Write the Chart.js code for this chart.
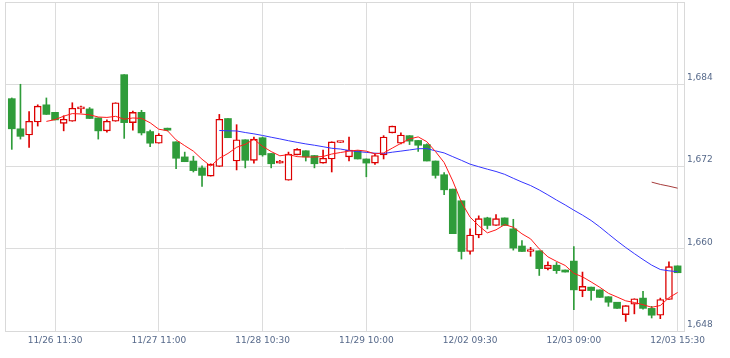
<!DOCTYPE html>
<html>
<head>
<meta charset="utf-8">
<script src="https://cdn.jsdelivr.net/npm/chart.js@4/dist/chart.umd.min.js"></script>
<style>
  html, body { margin: 0; padding: 0; background: #fff; }
  canvas { display: block; }
</style>
</head>
<body>
<canvas id="c" width="730" height="358"></canvas>
<script>
// ---- data (30-minute candles) ----
const days = ['11/26', '11/27', '11/28', '11/29', '12/02', '12/03'];
const sessionTimes = ['09:00','09:30','10:00','10:30','11:00','11:30','12:30','13:00','13:30','14:00','14:30','15:00','15:30'];
const labelIndexes = [5, 17, 29, 41, 53, 65, 77];
const yTicks = [1648, 1660, 1672, 1684];
const maPeriods = [5, 25, 75];

const open  = [1681.9,1677.5,1676.6,1678.5,1681.0,1679.9,1678.3,1678.6,1680.4,1680.4,
               1679.1,1677.2,1678.6,1685.4,1678.4,1679.9,1677.1,1675.4,1677.5,1675.6,
               1673.4,1672.8,1671.8,1670.6,1672.0,1679.0,1672.8,1675.9,1672.9,1676.2,
               1673.9,1672.5,1670.0,1673.7,1674.3,1673.6,1672.5,1673.1,1675.5,1673.4,
               1674.3,1673.1,1672.5,1673.7,1676.9,1675.4,1676.5,1675.8,1675.2,1672.8,
               1670.8,1668.7,1667.0,1659.6,1662.0,1664.5,1663.4,1664.5,1662.9,1660.4,
               1659.6,1659.7,1657.1,1657.6,1656.9,1658.2,1653.9,1654.4,1654.0,1653.0,
               1652.2,1650.4,1651.9,1652.8,1651.3,1650.3,1652.6,1657.5];
const high  = [1682.0,1684.0,1680.0,1681.0,1682.0,1679.9,1679.4,1681.3,1680.8,1680.6,
               1679.1,1678.8,1681.3,1685.4,1680.1,1680.2,1677.3,1676.8,1677.6,1675.6,
               1674.1,1673.5,1672.1,1672.4,1679.6,1679.0,1678.1,1675.9,1676.3,1676.3,
               1673.9,1672.9,1674.1,1674.6,1674.3,1673.6,1674.4,1675.6,1675.6,1676.3,
               1674.3,1673.1,1673.9,1676.5,1677.9,1676.9,1676.5,1675.8,1675.3,1672.8,
               1671.1,1668.7,1667.0,1662.9,1664.8,1664.6,1665.0,1664.5,1664.3,1661.2,
               1660.2,1659.7,1658.1,1658.0,1656.9,1660.3,1656.6,1654.4,1654.0,1653.0,
               1652.2,1651.7,1652.7,1653.8,1651.6,1652.8,1658.1,1657.5];
const low   = [1674.5,1676.0,1674.8,1677.9,1679.6,1678.8,1677.2,1678.6,1679.8,1679.0,
               1676.0,1677.0,1678.6,1676.1,1677.3,1676.6,1674.9,1675.4,1677.2,1671.7,
               1672.7,1671.2,1669.1,1670.6,1672.0,1676.2,1671.5,1671.8,1672.5,1673.5,
               1671.8,1672.5,1670.0,1673.7,1672.8,1671.8,1672.5,1671.2,1675.5,1672.8,
               1673.1,1670.5,1672.3,1673.1,1676.9,1675.3,1675.2,1674.2,1672.8,1670.3,
               1667.9,1662.2,1658.5,1659.2,1661.6,1662.9,1663.4,1663.4,1659.8,1659.6,
               1658.9,1656.1,1656.9,1656.4,1656.6,1651.1,1653.0,1652.5,1652.9,1651.6,
               1651.3,1649.4,1650.5,1651.2,1649.9,1649.8,1652.6,1656.5];
const close = [1677.5,1676.4,1678.6,1680.8,1679.6,1678.8,1678.9,1680.5,1680.5,1679.0,
               1677.2,1678.6,1681.3,1678.4,1679.9,1676.9,1675.4,1676.6,1677.3,1673.2,
               1672.7,1671.4,1670.7,1672.3,1678.9,1676.2,1675.9,1672.9,1676.0,1673.7,
               1672.4,1672.8,1673.8,1674.5,1673.4,1672.4,1673.2,1675.6,1675.6,1674.4,
               1673.1,1672.5,1673.6,1676.3,1677.9,1676.6,1675.7,1675.1,1672.8,1670.7,
               1668.6,1662.2,1659.6,1662.0,1664.4,1663.4,1664.4,1663.4,1660.1,1659.6,
               1659.7,1657.1,1657.6,1656.8,1656.6,1654.0,1654.5,1653.9,1652.9,1652.2,
               1651.3,1651.7,1652.7,1651.3,1650.3,1652.6,1657.4,1656.5];

// ---- derived ----
const labels = [];
days.forEach(d => sessionTimes.forEach(t => labels.push(d + ' ' + t)));

const UP = '#dd0000', DOWN = '#2f9c3a';
const isUp = close.map((c, i) => c >= open[i]);

function movingAverage(n) {
  return close.map((_, i) => {
    if (i < n - 1) return { x: i, y: null };
    let s = 0;
    for (let k = i - n + 1; k <= i; k++) s += close[k];
    return { x: i, y: s / n };
  });
}

const framePlugin = {
  id: 'frame',
  beforeDatasetsDraw(chart) {
    const { ctx, chartArea: a } = chart;
    ctx.save();
    ctx.strokeStyle = '#d9d9d9';
    ctx.lineWidth = 1;
    ctx.strokeRect(a.left + 0.5, a.top + 0.5, a.right - a.left, a.bottom - a.top);
    ctx.restore();
  }
};

const tickFont = { family: 'DejaVu Sans', size: 9 };
const tickColor = '#56698a';

new Chart(document.getElementById('c'), {
  type: 'bar',
  data: {
    datasets: [
      {
        type: 'line', label: 'MA5', order: 0,
        data: movingAverage(maPeriods[0]),
        borderColor: '#ff1a1a', borderWidth: 1, pointRadius: 0, tension: 0
      },
      {
        type: 'line', label: 'MA25', order: 0,
        data: movingAverage(maPeriods[1]),
        borderColor: '#3535ff', borderWidth: 1, pointRadius: 0, tension: 0
      },
      {
        type: 'line', label: 'MA75', order: 0,
        data: movingAverage(maPeriods[2]),
        borderColor: '#a63c3c', borderWidth: 1, pointRadius: 0, tension: 0
      },
      {
        label: 'body', order: 2, grouped: false,
        data: close.map((c, i) => ({ x: i, y: [Math.min(open[i], c), Math.max(open[i], c)] })),
        backgroundColor: isUp.map(u => u ? '#ffffff' : DOWN),
        borderColor: isUp.map(u => u ? UP : DOWN),
        borderWidth: isUp.map(u => u ? 1.4 : 0),
        borderSkipped: false,
        barThickness: 7,
        minBarLength: 2
      },
      {
        label: 'wick', order: 3, grouped: false,
        data: close.map((c, i) => ({ x: i, y: [low[i], high[i]] })),
        backgroundColor: isUp.map(u => u ? UP : DOWN),
        borderWidth: 0,
        barThickness: 1
      }
    ]
  },
  options: {
    responsive: false,
    devicePixelRatio: 1,
    animation: false,
    layout: { padding: { left: 5, top: 2, right: 0, bottom: 0 } },
    plugins: { legend: { display: false }, tooltip: { enabled: false } },
    scales: {
      x: {
        type: 'linear',
        position: 'bottom',
        offset: false,
        min: -0.786,
        max: 77.74,
        afterBuildTicks: s => { s.ticks = labelIndexes.map(v => ({ value: v })); },
        afterFit: s => { s.height = 27; s.paddingLeft = 0; s.paddingRight = 0; },
        grid: { color: '#dcdcdc', drawTicks: false, offset: false },
        border: { display: false },
        ticks: {
          autoSkip: false, maxRotation: 0, padding: 4,
          font: tickFont, color: tickColor,
          callback: v => labels[v]
        }
      },
      y: {
        type: 'linear',
        position: 'right',
        min: 1648,
        max: 1696,
        afterBuildTicks: s => { s.ticks = yTicks.map(v => ({ value: v })); },
        afterFit: s => { s.width = 46; s.paddingTop = 0; s.paddingBottom = 0; },
        grid: { color: '#dcdcdc', drawTicks: false },
        border: { display: false },
        ticks: {
          padding: 3, labelOffset: -6.5,
          font: tickFont, color: tickColor,
          callback: v => v.toLocaleString('en-US')
        }
      }
    }
  },
  plugins: [framePlugin]
});
</script>
</body>
</html>
